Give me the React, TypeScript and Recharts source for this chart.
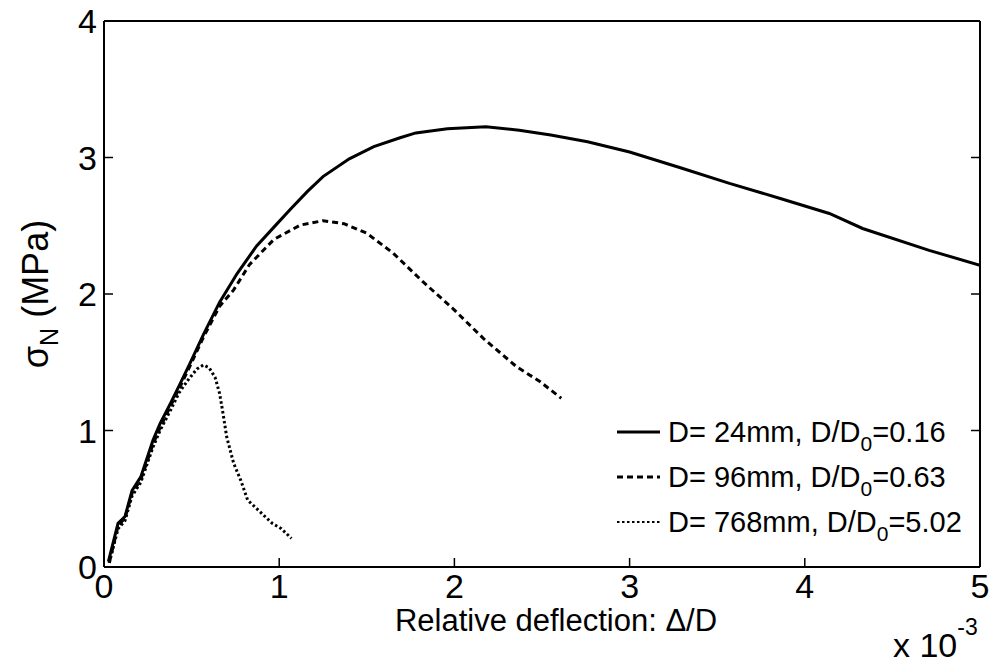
import { LineChart, Line, XAxis, YAxis, Legend } from "recharts";

const FONT = '"Liberation Sans", Arial, Helvetica, sans-serif';

const X_TICKS = [0, 1, 2, 3, 4, 5];
const Y_TICKS = [0, 1, 2, 3, 4];

// D = 24mm (solid)
const D24_X = [0.025, 0.08, 0.12, 0.16, 0.21, 0.28, 0.32, 0.38, 0.43, 0.49, 0.57, 0.66, 0.76, 0.87, 0.97, 1.06, 1.16, 1.25, 1.4, 1.54, 1.69, 1.78, 1.96, 2.18, 2.37, 2.55, 2.76, 3.0, 3.29, 3.57, 3.86, 4.14, 4.33, 4.71, 5.0];
const D24_Y = [0.04, 0.32, 0.37, 0.56, 0.66, 0.93, 1.05, 1.2, 1.33, 1.49, 1.71, 1.94, 2.15, 2.35, 2.49, 2.615, 2.75, 2.86, 2.99, 3.08, 3.145, 3.18, 3.21, 3.225, 3.2, 3.165, 3.115, 3.04, 2.925, 2.81, 2.7, 2.59, 2.48, 2.32, 2.21];

// D = 96mm (dashed)
const D96_X = [0.03, 0.08, 0.12, 0.16, 0.21, 0.28, 0.32, 0.38, 0.43, 0.49, 0.57, 0.66, 0.74, 0.83, 0.97, 1.12, 1.25, 1.37, 1.5, 1.65, 1.82, 1.99, 2.165, 2.355, 2.49, 2.61];
const D96_Y = [0.03, 0.3, 0.36, 0.54, 0.64, 0.9, 1.02, 1.18, 1.31, 1.47, 1.69, 1.91, 2.03, 2.215, 2.4, 2.505, 2.537, 2.515, 2.445, 2.3, 2.09, 1.895, 1.675, 1.467, 1.357, 1.236];

// D = 768mm (dotted)
const D768_X = [0.03, 0.08, 0.12, 0.16, 0.21, 0.28, 0.32, 0.38, 0.43, 0.48, 0.53, 0.567, 0.6, 0.634, 0.66, 0.68, 0.7, 0.74, 0.78, 0.82, 0.89, 0.96, 1.01, 1.07];
const D768_Y = [0.03, 0.28, 0.34, 0.52, 0.62, 0.88, 1.0, 1.15, 1.28, 1.37, 1.45, 1.48, 1.46, 1.39, 1.27, 1.12, 0.955, 0.76, 0.637, 0.49, 0.405, 0.32, 0.283, 0.21];

const SERIES = [
  { key: "d24", size: "24", ratio: "0.16", xs: D24_X, ys: D24_Y, dash: undefined as string | undefined },
  { key: "d96", size: "96", ratio: "0.63", xs: D96_X, ys: D96_Y, dash: "6 4" },
  { key: "d768", size: "768", ratio: "5.02", xs: D768_X, ys: D768_Y, dash: "2.5 2.5" },
];

const toPoints = (xs: number[], ys: number[]) => xs.map((x, i) => ({ x, y: ys[i] }));

const TICK_STYLE = { fontSize: 34, fill: "#000", fontFamily: FONT };
const NoLabel = () => <g />;

function LegendBox() {
  return (
    <svg width={380} height={150} style={{ display: "block" }}>
      {SERIES.map((s, i) => {
        const cy = 27 + i * 45;
        return (
          <g key={s.key}>
            <line x1={12} x2={55} y1={cy} y2={cy} stroke="#000" strokeWidth={s.dash === "2.5 2.5" ? 2 : 3} strokeDasharray={s.dash} />
            <text x={63} y={cy + 10} fontSize={29} fontFamily={FONT} fill="#000">
              {`D= ${s.size}mm, D/D`}
              <tspan dy={9} fontSize={21}>0</tspan>
              <tspan dy={-9}>{`=${s.ratio}`}</tspan>
            </text>
          </g>
        );
      })}
    </svg>
  );
}

export default function App() {
  return (
    <div style={{ position: "absolute", left: 0, top: 0, width: 995, height: 666, background: "#fff" }}>
      <LineChart width={995} height={666} margin={{ top: 20, right: 14, left: 44, bottom: 59 }}>
        <XAxis
          dataKey="x"
          type="number"
          domain={[0, 5]}
          ticks={X_TICKS}
          allowDataOverflow
          height={40}
          tickSize={-9}
          tickMargin={16}
          tick={TICK_STYLE}
          stroke="#000"
          strokeWidth={2}
          tickLine={{ stroke: "#000", strokeWidth: 1.5 }}
        />
        <XAxis
          xAxisId="top"
          orientation="top"
          type="number"
          domain={[0, 5]}
          ticks={X_TICKS}
          allowDataOverflow
          height={1}
          tickSize={-9}
          tick={NoLabel}
          stroke="#000"
          strokeWidth={2}
          tickLine={{ stroke: "#000", strokeWidth: 1.5 }}
        />
        <YAxis
          type="number"
          domain={[0, 4]}
          ticks={Y_TICKS}
          allowDataOverflow
          width={60}
          tickSize={-9}
          tickMargin={16}
          tick={TICK_STYLE}
          stroke="#000"
          strokeWidth={2}
          tickLine={{ stroke: "#000", strokeWidth: 1.5 }}
        />
        <YAxis
          yAxisId="right"
          orientation="right"
          type="number"
          domain={[0, 4]}
          ticks={Y_TICKS}
          allowDataOverflow
          width={1}
          tickSize={-9}
          tick={NoLabel}
          stroke="#000"
          strokeWidth={2}
          tickLine={{ stroke: "#000", strokeWidth: 1.5 }}
        />
        {SERIES.map((s) => (
          <Line
            key={s.key}
            data={toPoints(s.xs, s.ys)}
            dataKey="y"
            type="linear"
            stroke="#000"
            strokeWidth={3}
            strokeDasharray={s.dash}
            dot={false}
            activeDot={false}
            isAnimationActive={false}
          />
        ))}
        <Legend
          layout="vertical"
          align="center"
          verticalAlign="middle"
          content={() => <LegendBox />}
          wrapperStyle={{ position: "absolute", left: 605, top: 405, width: 380, height: 150 }}
        />
      </LineChart>
      <svg width={995} height={666} style={{ position: "absolute", left: 0, top: 0, pointerEvents: "none" }}>
        <text x={556} y={631} fontSize={31} fontFamily={FONT} textAnchor="middle" fill="#000">
          Relative deflection: Δ/D
        </text>
        <text x={893} y={657} fontSize={34} fontFamily={FONT} fill="#000">
          x 10
          <tspan dy={-22} fontSize={23}>-3</tspan>
        </text>
        <text transform="translate(48,294) rotate(-90)" fontSize={36} fontFamily={FONT} textAnchor="middle" fill="#000">
          σ
          <tspan dy={10} fontSize={25}>N</tspan>
          <tspan dy={-10}> (MPa)</tspan>
        </text>
      </svg>
    </div>
  );
}
